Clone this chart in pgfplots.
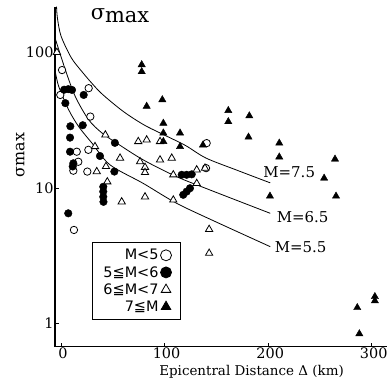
\documentclass[border=0pt]{standalone}
\usepackage{pgfplots}
\pgfplotsset{compat=1.18}
\usepackage{fontspec}
\setmainfont{DejaVu Serif}
\newfontfamily\legfont{DejaVu Sans}
\begin{document}
\begin{tikzpicture}
\begin{axis}[name=ax,
  scale only axis, width=332bp, height=340bp,
  xmin=-5.8, xmax=314.7,
  ymode=log, ymin=0.675, ymax=217,
  axis x line=bottom, axis y line=left,
  axis line style={-, line width=1.2bp},
  xtick={0,100,200,300},
  ytick={1,10,100}, yticklabels={1,10,100},
  minor tick style={draw=none},
  tick style={black, line width=0.8bp},
  major tick length=4bp,
  tick align=inside,
  /pgf/number format/assume math mode=true,
  tick label style={font=\fontsize{14.5}{17}\selectfont},
  xticklabel style={yshift=2bp, xshift=2bp},
  yticklabel style={xshift=2bp},
  xlabel={Epicentral Distance Δ (km)},
  xlabel style={at={(axis description cs:0.592,-0.0745)}, anchor=center, font=\fontsize{13.5}{16}\selectfont},
  ylabel={σmax},
  ylabel style={at={(axis description cs:-0.105,0.564)}, anchor=center, rotate=0, font=\fontsize{16}{18}\selectfont},
  clip=false,
  legend style={at={(axis cs:30,1.06)}, anchor=south west, draw=black, line width=0.8bp,
    font=\legfont\fontsize{14.5}{16}\selectfont, legend cell align=right, row sep=1bp,
    inner xsep=9bp, inner ysep=5bp},
  legend plot pos=right,
  legend image post style={mark size=5.5bp},
]
% curves
\addplot[black, line width=0.8bp, smooth, forget plot] coordinates {
(-4.3,217) (-3.5,180) (0,132) (10,91) (20,72.4) (30,58.9) (40,49) (60,36.7) (80,29.2) (100,24.5) (120,20.6) (140,16.6) (170,13.5) (202,10.9)};
\addplot[black, line width=0.8bp, smooth, forget plot] coordinates {
(-5.8,128) (4.2,74.3) (13.8,47.2) (26.7,31.8) (39.6,25.4) (53.8,21.4) (79.4,16.1) (111.7,12.1) (143.8,9.66) (202,6.5)};
\addplot[black, line width=0.8bp, smooth, forget plot] coordinates {
(-5.8,74) (-2.2,56) (7.4,37.7) (17.1,28.3) (29.9,21.4) (47.3,14.8) (79.4,10.8) (111.7,7.7) (150,5.6) (202,3.69)};
% M<5
\addplot[only marks, mark=*, mark size=3.7bp, mark options={fill=white, draw=black, line width=0.8bp}] coordinates {
(1,74) (-0.7,48.5) (26.7,54.4) (28.3,33.6) (26.4,19.1) (15.2,18.5) (16.7,15.6) (11.9,13.4) (25.4,13.2) (12.5,4.9) (140.6,21.4) (140,14)};
\addlegendentry{M<5}
% 5<=M<6
\addplot[only marks, mark=*, mark size=3.8bp, mark options={fill=black, draw=black}] coordinates {
(3,53) (7,53.5) (10.6,52.8) (21.9,48.5) (4.2,42.2) (9,28.5) (21,29) (8.7,23.5) (52,21.5) (8.7,18.5) (37.6,17.2) (11.9,15.2) (11.3,14.4) (51.5,13.2) (40.8,10.2) (40.8,9.4) (40.8,8.6) (41,7.9) (7,6.5) (116.5,12.5) (121.3,12.5) (126.2,12.6) (118,8.9) (121.3,9.4) (124.5,9.95)};
\addlegendentry{5≦M<6}
% 6<=M<7
\addplot[only marks, mark=triangle*, mark size=4.2bp, mark options={fill=white, draw=black, line width=0.8bp}] coordinates {
(-4,100) (42.8,24.6) (32.8,20.2) (57,16.6) (43.4,14.4) (34.5,13.2) (44.7,11.1) (58.6,7.9) (74.6,22) (82.7,22.6) (95.6,22) (76.3,15.6) (95.6,16.1) (106.9,16.6) (81.1,14.2) (81.1,13.0) (108.4,12.5) (131,13.6) (139,14) (131,10.8) (81.1,8.6) (108.4,8.15) (143,4.95) (143,3.3)};
\addlegendentry{6≦M<7}
% 7<=M
\addplot[only marks, mark=triangle*, mark size=4.2bp, mark options={fill=black, draw=black}] coordinates {
(77.9,81) (77.9,72) (97.8,44.7) (82.7,40) (98.8,30) (98.8,25.4) (98.8,22) (114.9,25.4) (114.9,20.2) (137,20.7) (161.5,37.2) (161.5,30.8) (181.8,34) (181,23.7) (210.7,21.4) (210.7,16.9) (264.5,16.3) (254,11.8) (201.7,8.7) (265.5,8.7) (286,1.31) (303,1.58) (303,1.47) (288,0.84)};
\addlegendentry{7≦M\hspace{1.5em}}
% labels
\node[anchor=west, font=\fontsize{15}{17}\selectfont] at (axis cs:192,13.1) {M=7.5};
\node[anchor=west, font=\fontsize{15}{17}\selectfont] at (axis cs:205,6.1) {M=6.5};
\node[anchor=west, font=\fontsize{15}{17}\selectfont] at (axis cs:203,3.65) {M=5.5};
\node[font=\fontsize{21}{24}\selectfont] at (axis description cs:0.196,0.973) {σ\raisebox{-3bp}{max}};
\end{axis}
\pgfresetboundingbox
\path (ax.south west) ++(-55bp,-39.3bp) rectangle ++(388bp,386bp);
\end{tikzpicture}
\end{document}
